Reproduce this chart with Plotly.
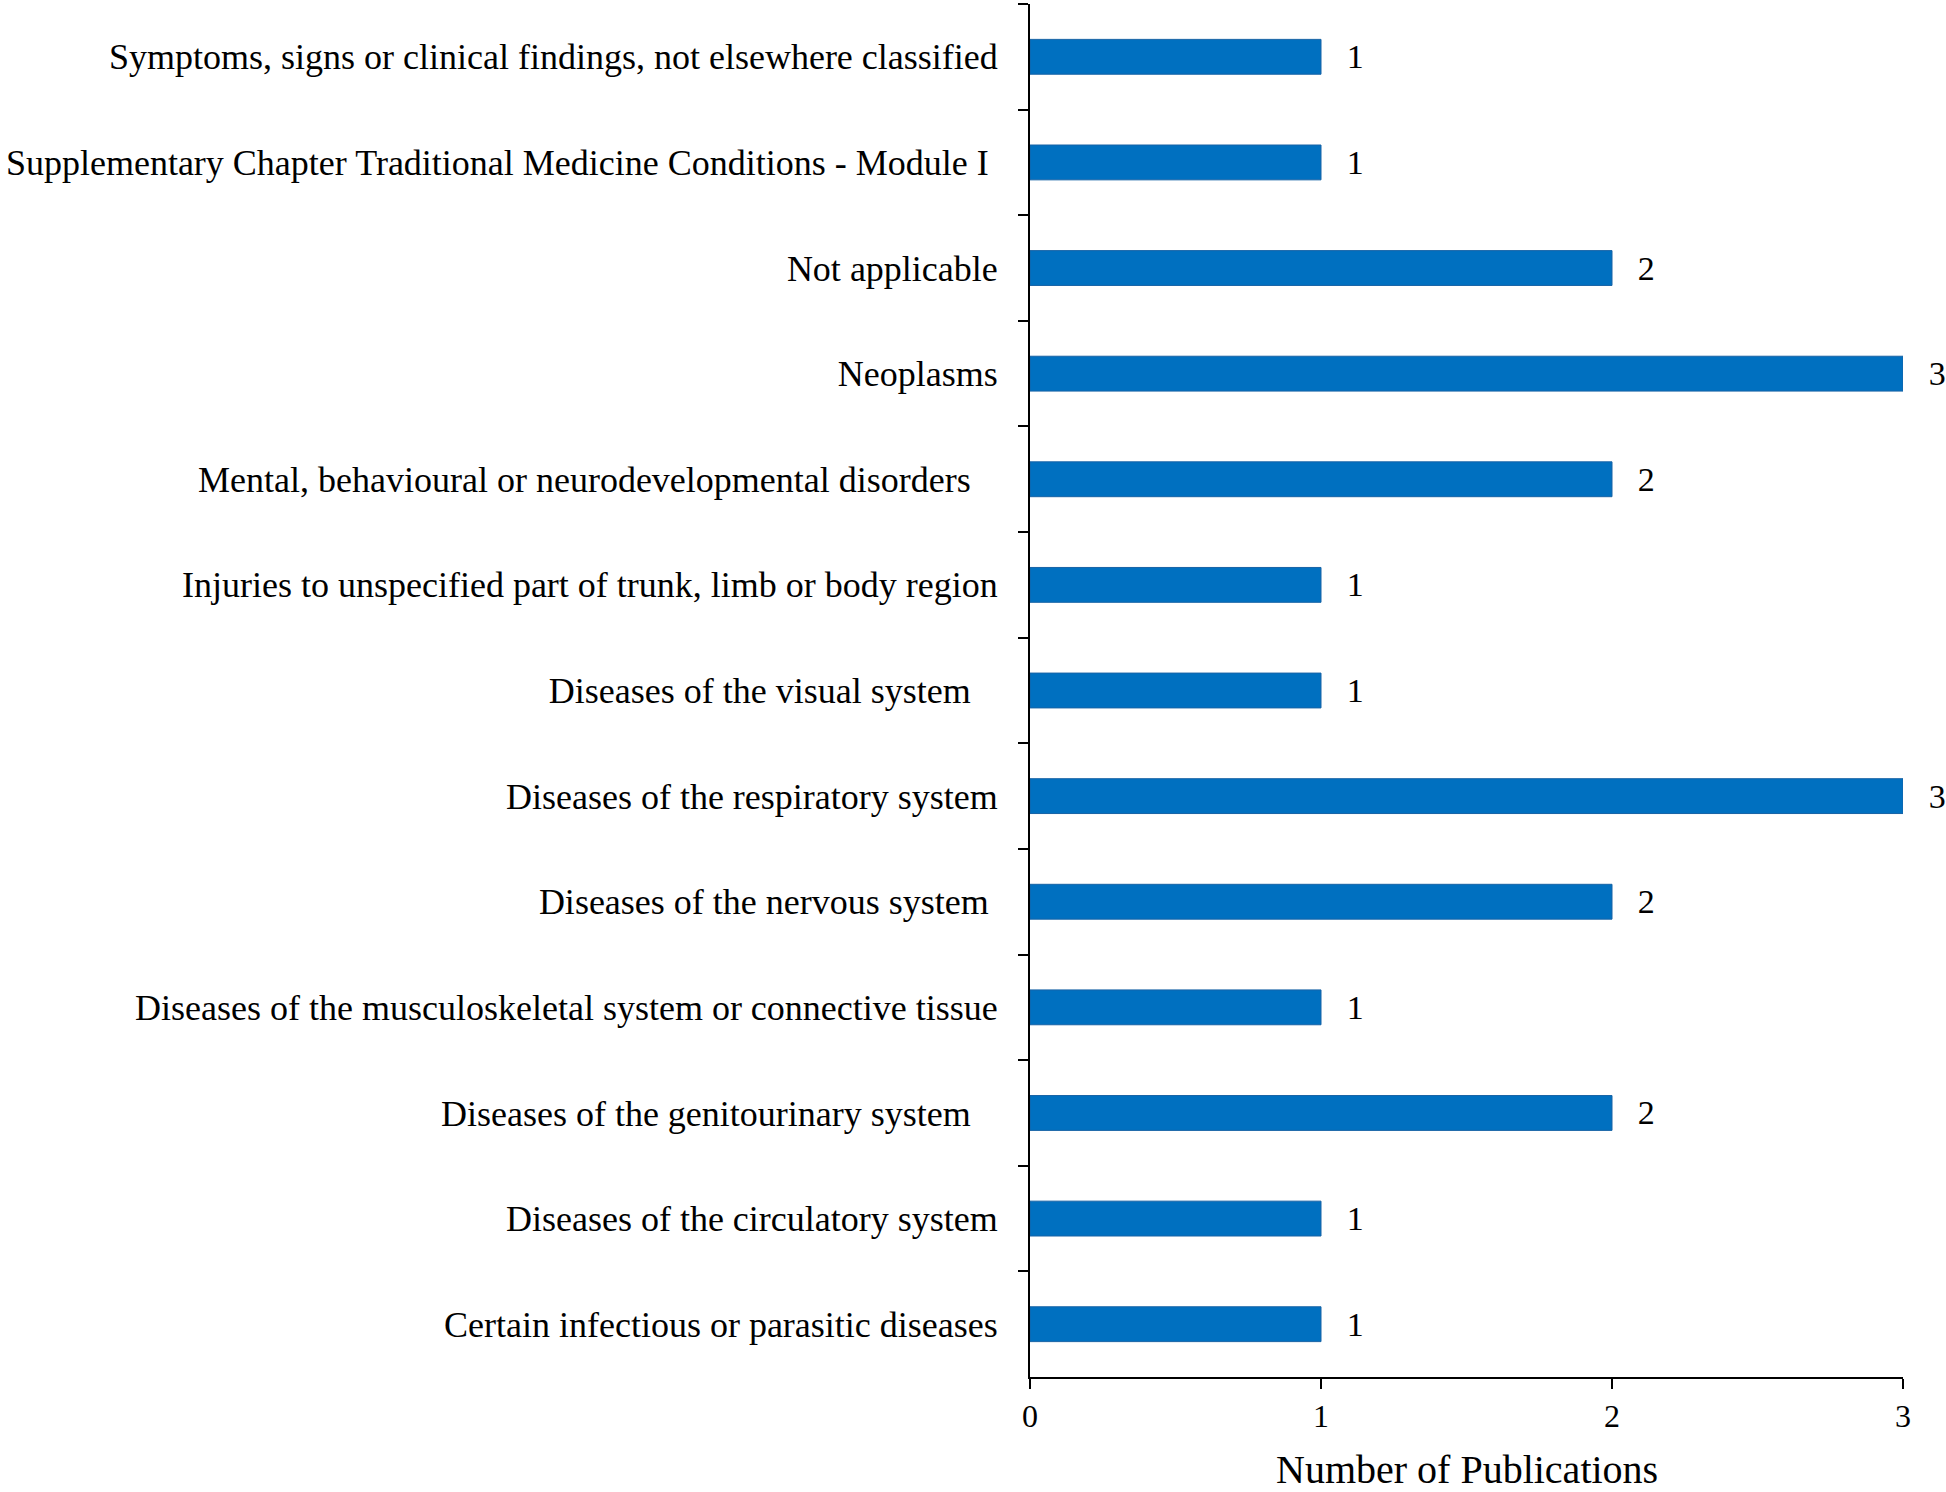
import plotly.graph_objects as go

NB = "\u00a0"
categories = [
    "Symptoms, signs or clinical findings, not elsewhere classified",
    "Supplementary Chapter Traditional Medicine Conditions - Module I" + NB,
    "Not applicable",
    "Neoplasms",
    "Mental, behavioural or neurodevelopmental disorders" + NB * 3,
    "Injuries to unspecified part of trunk, limb or body region",
    "Diseases of the visual system" + NB * 3,
    "Diseases of the respiratory system",
    "Diseases of the nervous system" + NB,
    "Diseases of the musculoskeletal system or connective tissue",
    "Diseases of the genitourinary system" + NB * 3,
    "Diseases of the circulatory system",
    "Certain infectious or parasitic diseases",
]
values = [1, 1, 2, 3, 2, 1, 1, 3, 2, 1, 2, 1, 1]
x_ticks = [0, 1, 2, 3]
x_title = "Number of Publications"

FONT = "Liberation Serif"

fig = go.Figure(
    go.Bar(
        y=categories,
        x=values,
        orientation="h",
        marker=dict(color="#0070C0", line=dict(color="#1763A6", width=1)),
        width=0.33,
        texttemplate=NB * 2 + "\u2006%{x}",
        textposition="outside",
        constraintext="none",
        cliponaxis=False,
        textfont=dict(family=FONT, size=34, color="black"),
    )
)

fig.add_annotation(
    text=x_title,
    xref="paper",
    yref="paper",
    x=0.5,
    y=-0.0675,
    xanchor="center",
    yanchor="middle",
    showarrow=False,
    font=dict(family=FONT, size=40, color="black"),
)

fig.update_layout(
    width=1946,
    height=1492,
    margin=dict(l=1030, r=43, t=4, b=115),
    plot_bgcolor="white",
    paper_bgcolor="white",
    showlegend=False,
    font=dict(family=FONT, color="black", size=34),
    xaxis=dict(
        range=[0, 3],
        tickvals=x_ticks,
        ticks="outside",
        ticklen=10,
        tickwidth=2,
        tickcolor="black",
        showline=True,
        linecolor="black",
        linewidth=2,
        showgrid=False,
        zeroline=False,
        automargin=False,
        tickfont=dict(family=FONT, size=32),
    ),
    yaxis=dict(
        autorange="reversed",
        ticks="outside",
        tickson="boundaries",
        ticklen=10,
        tickwidth=2,
        tickcolor="black",
        showline=True,
        linecolor="black",
        linewidth=2,
        showgrid=False,
        automargin=False,
        tickfont=dict(family=FONT, size=36),
        ticklabelstandoff=23,
    ),
)

fig.write_html(
    "out.html",
    config={"displayModeBar": False},
    post_script="document.body.style.margin='0';document.body.style.overflow='hidden';",
)
